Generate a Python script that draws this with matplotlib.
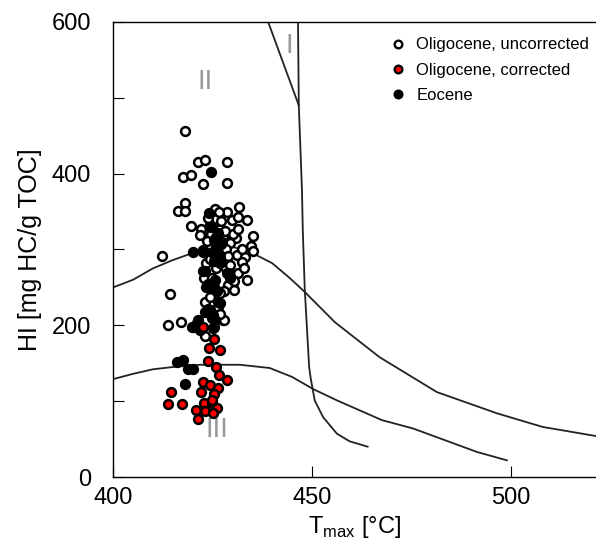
"""Rock-Eval HI vs Tmax kerogen-type diagram (Oligocene / Eocene samples)."""

import matplotlib
matplotlib.use("Agg")
import matplotlib.pyplot as plt
from matplotlib.lines import Line2D

plt.rcParams["font.family"] = ["Liberation Sans", "DejaVu Sans"]
plt.rcParams["mathtext.fontset"] = "custom"
plt.rcParams["mathtext.rm"] = "Liberation Sans"

# --- kerogen type boundary curves (Tmax, HI) ---
UPPER_T = [400, 405, 410, 415, 419.3, 425, 429, 434.4, 440, 444.5, 448.2,
           455.8, 467, 481.4, 496.5, 508, 521.4]
UPPER_HI = [250, 260, 275, 286, 294, 302, 305, 297, 282, 262, 244,
            204, 158, 112, 84, 66, 54]
LOWER_T = [400, 405, 410, 415, 421.9, 431.9, 439.4, 445, 450.3, 456.3,
           467.6, 475.4, 491.5, 499]
LOWER_HI = [129, 136, 142, 145, 148, 148, 143.7, 132, 116, 101,
            75, 64, 33, 22]
TYPE1_T = [439, 446.7, 447.5, 447.7, 448.2, 449.3, 449.7, 450.7, 452.8,
           456.3, 459.5, 464]
TYPE1_HI = [600, 490, 378, 326, 247, 145, 130, 101, 79, 57, 47, 40]
TYPE1B_T = [446.5, 446.7]
TYPE1B_HI = [600, 490]

# --- samples ---
OLIG_UNCORR_T = [418.1, 421.3, 423.1, 428.7, 417.5, 419.6, 422.5, 428.7,
                 418.1, 416.4, 418.1, 419.6, 422.0, 425.6, 428.7, 431.7,
                 433.6, 435.1, 425.9, 429.8, 431.5, 430.9, 421.9, 434.6,
                 429.4, 412.2, 423.5, 431.1, 433.2, 432.3, 433.6, 430.2,
                 429.0, 429.4, 431.5, 428.1, 414.3, 423.1, 425.6, 427.7,
                 425.2, 413.9, 417.1, 423.1, 430.3, 428.0,
                 424.7, 426.9, 427.7, 430.2, 431.5, 427.5, 423.6, 426.0,
                 428.5, 432.5, 425.0, 428.8, 424.5, 427.0, 429.5, 426.0,
                 422.8, 425.0, 430.5, 428.0, 425.5, 426.5, 424.0, 425.0,
                 427.0, 424.5, 426.8, 433.0, 435.3, 426.6, 424.5, 427.2,
                 423.8, 428.2]
OLIG_UNCORR_HI = [456, 415, 418, 415, 396, 398, 387, 388,
                  361, 351, 351, 331, 327, 353, 349, 356,
                  339, 318, 340, 339, 343, 315, 319, 305,
                  308, 292, 282, 293, 290, 284, 260, 249,
                  253, 269, 269, 277, 241, 231, 238, 207,
                  196, 200, 204, 186, 246, 207,
                  320, 327, 317, 320, 327, 310, 311, 303,
                  300, 300, 296, 291, 287, 286, 280, 276,
                  263, 262, 258, 245, 250, 224, 222, 210,
                  215, 238, 243, 276, 298, 350, 332, 338,
                  342, 325]

EOCENE_T = [424.6, 424.1, 426.0, 424.7, 426.5, 425.5, 427.2, 420.2, 422.7,
            422.6, 425.1, 426.8, 428.9, 429.3, 423.1, 422.6, 423.5, 424.8,
            425.6, 423.9, 424.3, 428.6, 429.4, 423.1, 426.5, 424.8, 425.6,
            426.8, 424.3, 425.1, 425.5, 420.1, 421.4, 419.8, 421.0, 421.9,
            416.0, 417.7, 418.9, 420.2, 418.1, 425.5, 426.2, 427.0, 425.8]
EOCENE_HI = [402, 348, 317, 330, 322, 312, 307, 297, 297,
             299, 295, 282, 269, 264, 271, 271, 251, 255,
             260, 255, 249, 269, 262, 218, 231, 214, 207,
             229, 220, 214, 198, 198, 207, 198, 203, 194,
             151, 154, 142, 143, 122, 285, 245, 290, 302]

OLIG_CORR_T = [422.5, 425.5, 424.2, 427.0, 424.0, 425.9, 426.6, 428.7,
               422.5, 424.5, 426.5, 422.1, 425.4, 414.7, 413.9, 417.3,
               420.8, 422.9, 424.8, 426.2, 423.1, 425.2, 425.0, 421.3]
OLIG_CORR_HI = [198, 182, 170, 167, 153, 145, 135, 128,
                125, 121, 117, 112, 110, 112, 96, 96,
                89, 98, 97, 91, 87, 85, 102, 77]

LINE_COLOR = "#222222"
LABEL_GRAY = "#999999"


def main():
    fig = plt.figure(figsize=(5.96, 5.43), dpi=100)
    ax = fig.add_axes([113 / 596, 1 - 477 / 543, 1 - 113 / 596, 455 / 543])

    for t, hi in [(UPPER_T, UPPER_HI), (LOWER_T, LOWER_HI),
                  (TYPE1_T, TYPE1_HI), (TYPE1B_T, TYPE1B_HI)]:
        ax.plot(t, hi, color=LINE_COLOR, lw=1.3, zorder=2)

    mk = dict(s=40, linewidths=1.8, edgecolors="black", zorder=3)
    ax.scatter(OLIG_UNCORR_T, OLIG_UNCORR_HI, facecolors="white", **mk)
    ax.scatter(EOCENE_T, EOCENE_HI, facecolors="black", **mk)
    ax.scatter(OLIG_CORR_T, OLIG_CORR_HI, facecolors="#ff0000", **mk)

    for txt, t, hi in [("I", 444.2, 568), ("II", 423.1, 521), ("III", 426.0, 62)]:
        ax.text(t, hi, txt, color=LABEL_GRAY, fontsize=20,
                ha="center", va="center", zorder=1)

    ax.set_xlim(400, 521.4)
    ax.set_ylim(0, 600)
    ax.set_xticks([400, 450, 500])
    ax.set_yticks([0, 200, 400, 600])
    ax.set_yticks([100, 300, 500], minor=True)
    ax.tick_params(axis="both", which="both", direction="in", length=8,
                   width=0.8, labelsize=17)
    ax.tick_params(axis="y", which="both", pad=16)
    ax.tick_params(axis="x", pad=7)
    ax.spines["right"].set_visible(False)
    for sp in ("left", "bottom", "top"):
        ax.spines[sp].set_linewidth(1.0)

    ax.set_ylabel("HI [mg HC/g TOC]", fontsize=18, labelpad=7)
    ax.set_xlabel(r"T$_{\mathregular{max}}$ [°C]", fontsize=17, labelpad=4)

    handles = [
        Line2D([], [], ls="", marker="o", ms=5.5, mew=1.7, mfc="white", mec="black"),
        Line2D([], [], ls="", marker="o", ms=5.5, mew=1.7, mfc="#ff0000", mec="black"),
        Line2D([], [], ls="", marker="o", ms=5.5, mew=1.7, mfc="black", mec="black"),
    ]
    labels = ["Oligocene, uncorrected", "Oligocene, corrected", "Eocene"]
    ax.legend(handles, labels, loc="upper left", bbox_to_anchor=(0.578, 0.966),
              frameon=False, fontsize=12, handlelength=0.7, handletextpad=0.75,
              labelspacing=0.62, borderpad=0, borderaxespad=0)

    fig.savefig("out.png", dpi=100)


if __name__ == "__main__":
    main()
